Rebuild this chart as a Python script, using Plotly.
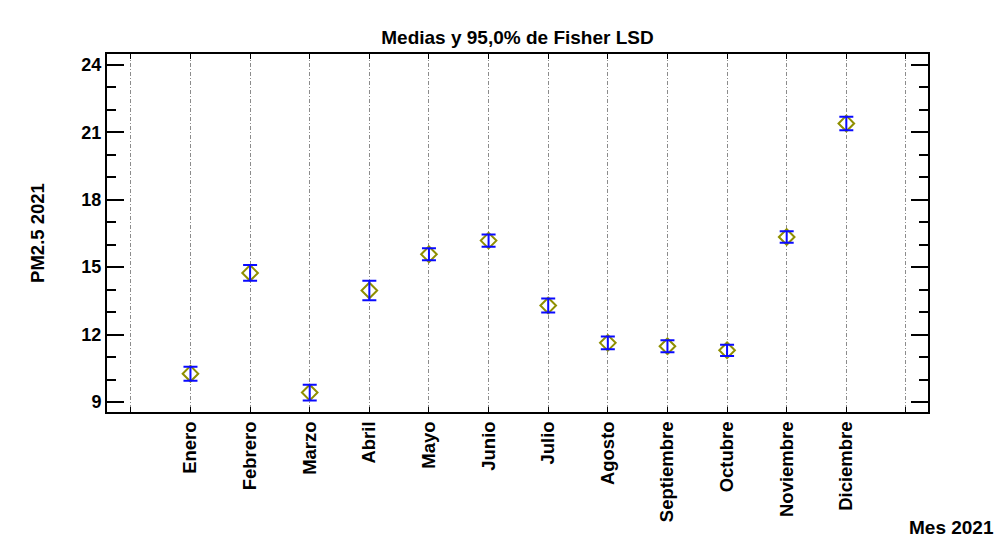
import plotly.graph_objects as go

# Monthly PM2.5 means with Fisher LSD 95% intervals
meses = ["Enero", "Febrero", "Marzo", "Abril", "Mayo", "Junio", "Julio",
         "Agosto", "Septiembre", "Octubre", "Noviembre", "Diciembre"]
medias = [10.26, 14.74, 9.42, 13.96, 15.57, 16.18, 13.29, 11.63, 11.48, 11.30, 16.34, 21.39]
semi_intervalo = [0.31, 0.35, 0.35, 0.43, 0.27, 0.27, 0.31, 0.28, 0.27, 0.25, 0.26, 0.30]

posiciones = list(range(1, len(meses) + 1))
ticks_x = list(range(0, len(meses) + 2))
textos_x = [""] + meses + [""]
y_ticks = [9, 12, 15, 18, 21, 24]

FONT = "Liberation Sans, Arial, sans-serif"

fig = go.Figure()
# mean markers
fig.add_trace(go.Scatter(
    x=posiciones, y=medias,
    mode="markers",
    marker=dict(symbol="diamond-open", size=12, color="#8f8f00",
                line=dict(width=2, color="#8f8f00")),
    showlegend=False,
    hoverinfo="x+y",
))
# LSD interval bars drawn over the markers
fig.add_trace(go.Scatter(
    x=posiciones, y=medias,
    mode="markers",
    marker=dict(size=1, color="rgba(0,0,0,0)"),
    error_y=dict(type="data", array=semi_intervalo, visible=True,
                 color="#0a0aff", thickness=2, width=7),
    showlegend=False,
    hoverinfo="skip",
))

fig.update_layout(
    width=998, height=539,
    margin=dict(l=107, r=70, t=54, b=127),
    paper_bgcolor="white", plot_bgcolor="white",
    font=dict(family=FONT, color="black"),
    title=dict(text="<b>Medias y 95,0% de Fisher LSD</b>",
               x=(107 + 928) / 2 / 998, xanchor="center",
               y=1 - 37 / 539, yanchor="middle",
               font=dict(size=19, family=FONT, color="black")),
    xaxis=dict(
        range=[-0.4, 13.37],
        tickmode="array", tickvals=ticks_x, ticktext=textos_x,
        tickangle=-90,
        tickfont=dict(size=18.5, family=FONT, color="black", weight="bold"),
        ticks="inside", ticklen=5, tickwidth=1, tickcolor="black",
        showline=True, linecolor="black", linewidth=2, mirror="ticks",
        showgrid=True, gridcolor="#8c8c8c", gridwidth=1,
        griddash="4px,2px,1px,2px",
        zeroline=False,
    ),
    yaxis=dict(
        range=[8.555, 24.48],
        tickmode="array", tickvals=y_ticks,
        tickfont=dict(size=18, family=FONT, color="black", weight="bold"),
        ticks="inside", ticklen=17, tickwidth=2, tickcolor="black",
        minor=dict(dtick=1, ticks="inside", ticklen=9, tickwidth=2,
                   tickcolor="black", showgrid=False),
        showline=True, linecolor="black", linewidth=2, mirror="ticks",
        showgrid=False, zeroline=False,
        title=dict(text="<b>PM2.5 2021</b>", standoff=32,
                   font=dict(size=18.5, family=FONT, color="black")),
    ),
    annotations=[dict(
        text="<b>Mes 2021</b>", xref="paper", yref="paper",
        x=1 + 68 / (998 - 177), y=-(527 - 411.7) / (411.7 - 54),
        xanchor="right", yanchor="middle", showarrow=False,
        font=dict(size=19, family=FONT, color="black"),
    )],
)

fig.write_html("out.html")
